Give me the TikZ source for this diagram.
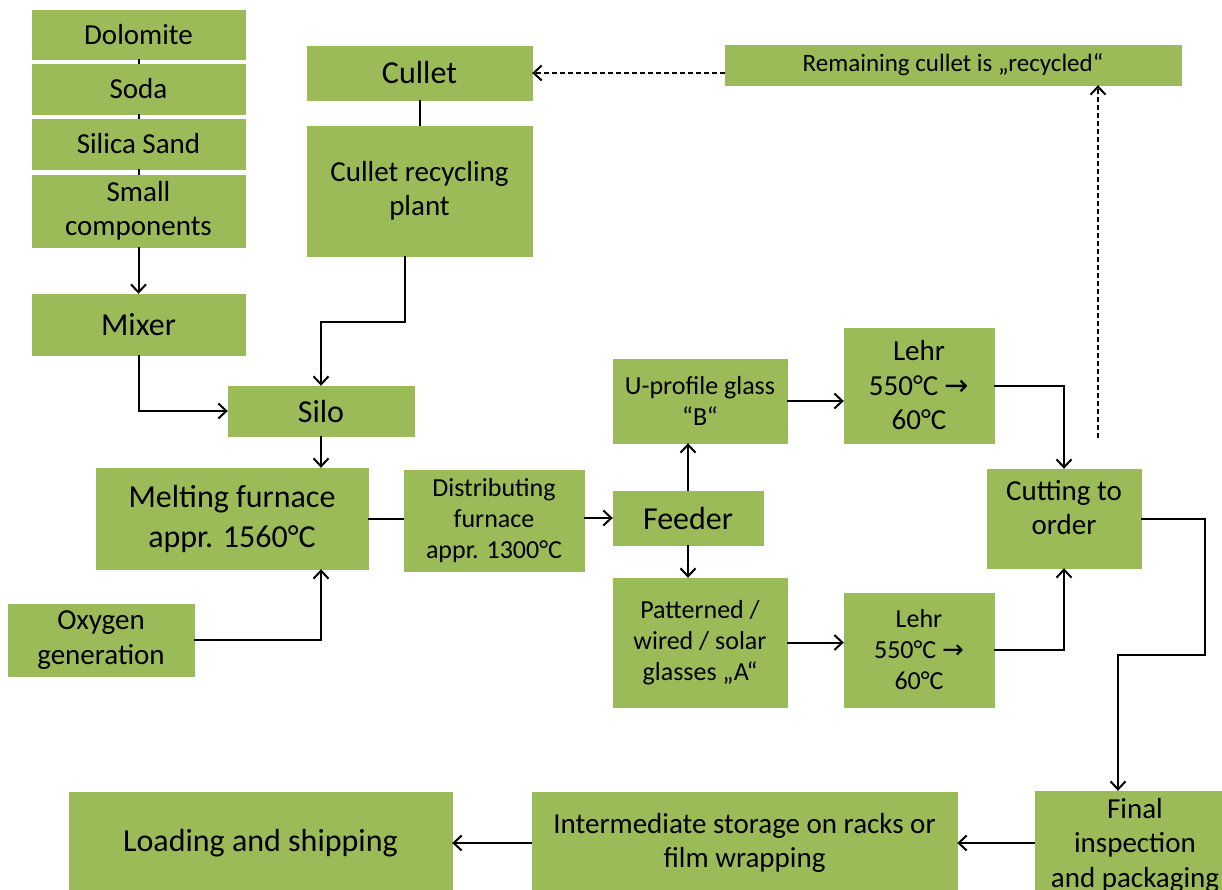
\documentclass[tikz,border=0pt]{standalone}
\usepackage{fontspec}
\setmainfont{Carlito}
\newfontfamily\arrowfont{DejaVu Sans}
\usepackage{xcolor}
\usepackage{tikz}
\usetikzlibrary{arrows.meta, positioning, calc}
\definecolor{leaf}{HTML}{9BBB59}

\begin{document}
\begin{tikzpicture}[
  x=1pt, y=-1pt,
  box/.style={
    rectangle, draw=leaf, fill=leaf, inner sep=2pt,
    align=center, text=black
  },
  big/.style={box, font=\fontsize{32}{40}\selectfont},
  mid/.style={box, font=\fontsize{29}{34.5}\selectfont},
  sml/.style={box, font=\fontsize{26}{31}\selectfont},
  line/.style={line width=2pt, black},
  arr/.style={line, -{Straight Barb[length=8pt, width=15pt]}},
  darr/.style={arr, dash pattern=on 5pt off 3pt},
]
  \useasboundingbox (0,0) rectangle (1222,890);

  % Raw materials
  \node[mid, minimum width=213pt, minimum height=49pt] (dol) at (138.5,34.5) {Dolomite};
  \node[mid, minimum width=213pt, minimum height=50pt] (soda) at (138.5,89) {Soda};
  \node[mid, minimum width=213pt, minimum height=50pt] (sand) at (138.5,144) {Silica Sand};
  \node[mid, minimum width=213pt, minimum height=72pt] (small) at (138.5,211) {Small\\components};
  \node[big, minimum width=213pt, minimum height=61pt] (mix) at (138.5,324.5) {Mixer};

  % Cullet
  \node[big, minimum width=225pt, minimum height=54pt] (cul) at (419.5,73) {Cullet};
  \node[mid, minimum width=225pt, minimum height=130pt] (plant) at (419.5,191) {Cullet recycling\\plant};
  \node[box, font=\fontsize{25}{30}\selectfont, minimum width=456pt, minimum height=40pt] (rem) at (953,65) {Remaining cullet is „recycled“};

  % Melting
  \node[big, minimum width=186pt, minimum height=50pt] (silo) at (321,411) {Silo};
  \node[big, minimum width=272pt, minimum height=101pt] (melt) at (232,518.5) {Melting furnace\\appr. 1560°C};
  \node[mid, minimum width=186pt, minimum height=72pt] (oxy) at (101,640) {Oxygen\\generation};
  \node[sml, minimum width=180pt, minimum height=101pt] (dist) at (494,520.5) {Distributing\\furnace\\appr. 1300°C};
  \node[big, minimum width=150pt, minimum height=54pt] (feed) at (688,518) {Feeder};

  % Forming and lehrs
  \node[sml, minimum width=174pt, minimum height=84pt] (uprof) at (700,401) {U-profile glass\\“B“};
  \node[sml, minimum width=174pt, minimum height=129pt] (pat) at (700,642.5) {Patterned /\\wired / solar\\glasses „A“};
  \node[mid, minimum width=150pt, minimum height=115pt] (lehr1) at (919,385.5) {Lehr\\550°C {\arrowfont →}\\60°C};
  \node[sml, minimum width=150pt, minimum height=114pt] (lehr2) at (919,650) {Lehr\\550°C {\arrowfont →}\\60°C};
  \node[mid, minimum width=154pt, minimum height=99pt] (cut) at (1064,518.5) {Cutting to\\order\\[-12pt]\mbox{}};

  % Dispatch
  \node[mid, minimum width=200pt, minimum height=108pt] (fin) at (1135,845) {Final\\inspection\\and packaging};
  \node[mid, minimum width=425pt, minimum height=102pt] (inter) at (744.5,843) {Intermediate storage on racks or\\film wrapping};
  \node[big, minimum width=383pt, minimum height=102pt] (load) at (260.5,843) {Loading and shipping};

  % Raw material chain
  \draw[line] (dol) -- (soda);
  \draw[line] (soda) -- (sand);
  \draw[line] (sand) -- (small);
  \draw[arr] (small) -- (mix);
  \draw[arr] (mix.south) |- (silo.west);

  % Cullet chain
  \draw[line] (cul) -- (plant);
  \draw[arr] ([xshift=-15pt]plant.south) -- ++(0,66) -| (silo.north);

  % Melting chain
  \draw[arr] (silo.south) -- (silo.south |- melt.north);
  \draw[arr] (oxy.east) -| (silo.south |- melt.south);
  \draw[line] (melt.east) -- (melt.east -| dist.west);
  \draw[arr] (dist.east |- feed.west) -- (feed.west);
  \draw[arr] (feed.north) -- (feed.north |- uprof.south);
  \draw[arr] (feed.south) -- (feed.south |- pat.north);
  \draw[arr] (uprof.east) -- (uprof.east -| lehr1.west);
  \draw[arr] (pat.east) -- (pat.east -| lehr2.west);
  \draw[arr] (lehr1.east) -| (cut.north);
  \draw[arr] (lehr2.east) -| (cut.south);

  % Recycling loop
  \coordinate (recy) at (1098,438);
  \draw[darr] (recy) -- (recy |- rem.south);
  \draw[darr] (rem.west |- cul.east) -- (cul.east);

  % Dispatch chain
  \draw[arr] (cut.east) -- ++(64,0) -- ++(0,136) -| ([xshift=-17pt]fin.north);
  \draw[arr] (fin.west |- inter.east) -- (inter.east);
  \draw[arr] (inter.west) -- (load.east);
\end{tikzpicture}
\end{document}
